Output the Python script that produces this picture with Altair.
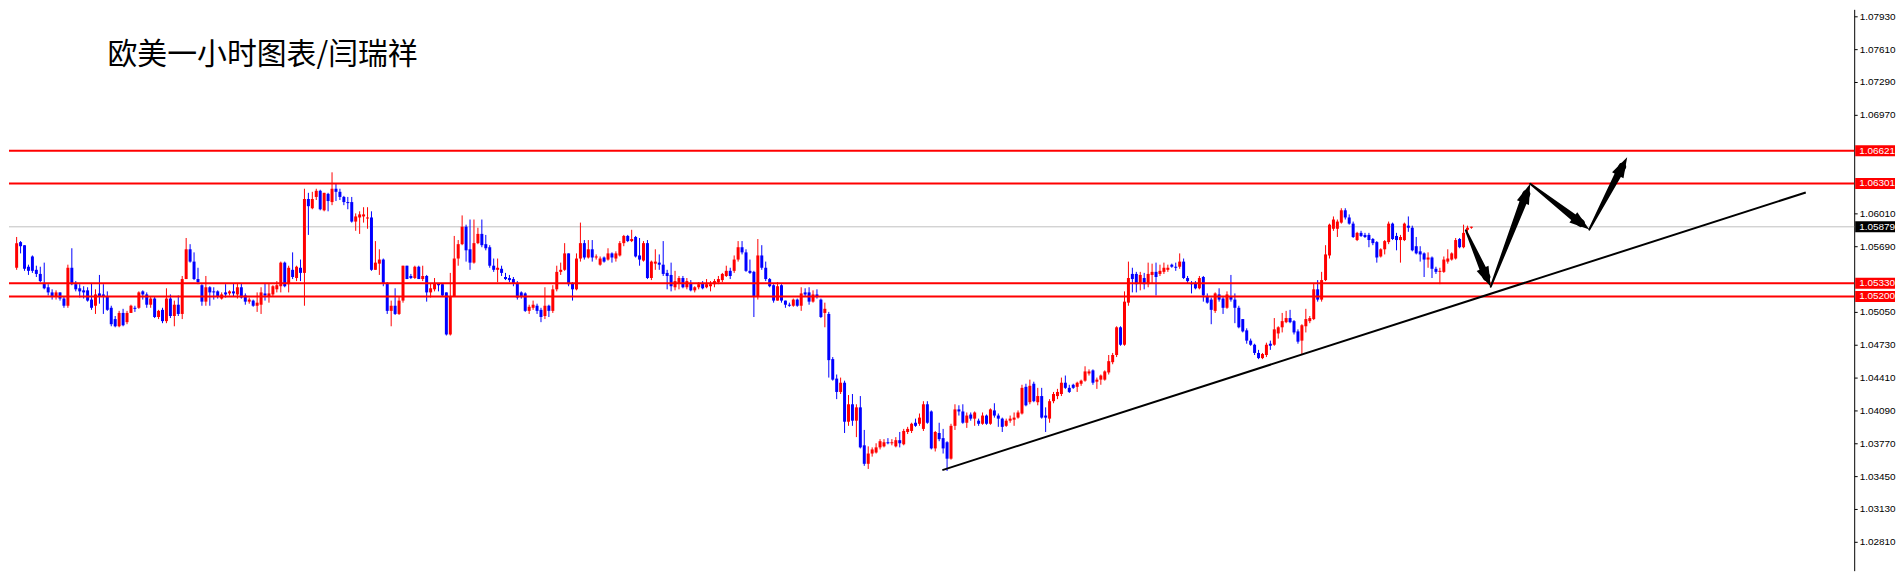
import math
import altair as alt
import pandas as pd

TITLE = "欧美一小时图表/闫瑞祥"

# EURUSD H1 candles, prices in pips (1 pip = 0.0001)
open_pips = [
    10548,10573,10570,10549,10559,10546,10542,10533,10529,10524,
    10520,10524,10518,10511,10548,10532,10528,10526,10526,10517,
    10511,10523,10522,10520,10509,10498,10491,10504,10495,10504,
    10509,10509,10525,10522,10512,10518,10500,10507,10496,10518,
    10501,10512,10503,10537,10566,10554,10537,10531,10515,10529,
    10525,10525,10518,10524,10523,10525,10522,10529,10521,10515,
    10516,10511,10512,10523,10520,10522,10527,10530,10553,10532,
    10546,10538,10548,10543,10615,
    10606,10617,10623,10604,10620,10612,10625,10622,10617,10612,
    10612,10593,10597,10598,10596,10597,10546,10552,10556,10533,
    10506,10511,10503,10516,10550,10540,10538,10549,10537,10540,
    10524,10527,10533,10532,10524,10483,10520,10557,10571,10588,
    10566,10553,10572,10581,10571,10568,10550,10546,10547,10539,
    10538,10537,10533,10524,10523,10506,10509,10511,10507,10501,
    10511,10506,10527,10544,10546,10562,10533,10527,10557,10572,
    10558,10566,10558,10551,10558,
    10556,10562,10557,10560,10572,10579,10574,10578,10560,10555,
    10572,10538,10552,10553,10551,10543,10541,10529,10533,10538,
    10529,10533,10526,10529,10533,10529,10530,10532,10534,10536,
    10540,10545,10545,10556,10568,10563,10545,10544,10520,10560,
    10548,10537,10531,10516,10531,10516,10512,10511,10517,10511,
    10524,10524,10515,10522,10517,10504,10503,10459,10440,10427,
    10436,10398,10415,10399,10412,10375,10357,10367,10368,10373,
    10374,10378,10377,10374,10380,
    10376,10388,10389,10397,10396,10391,10415,10408,10372,10387,
    10382,10378,10362,10394,10410,10408,10397,10405,10401,10399,
    10396,10404,10396,10409,10404,10401,10394,10399,10400,10402,
    10406,10432,10417,10435,10417,10423,10404,10401,10418,10423,
    10425,10436,10431,10434,10432,10435,10438,10445,10448,10437,
    10439,10439,10446,10456,10463,10490,10473,10514,10542,10542,
    10533,10538,10532,10541,10544,10542,10544,10546,10551,10549,
    10549,10554,10538,10533,10533,
    10528,10539,10520,10517,10506,10522,10518,10509,10520,10517,
    10509,10498,10487,10477,10473,10465,10460,10463,10474,10473,
    10484,10490,10495,10499,10496,10486,10477,10491,10496,10498,
    10527,10517,10536,10560,10586,10586,10592,10604,10597,10591,
    10575,10582,10580,10580,10576,10573,10559,10566,10573,10591,
    10579,10575,10575,10589,10587,10569,10564,10562,10556,10558,
    10547,10544,10544,10554,10556,10557,10576,10568,10585,10587,
]
high_pips = [
    10578,10574,10570,10551,10560,10550,10549,10553,10532,10527,
    10526,10524,10520,10551,10567,10535,10532,10530,10529,10533,
    10527,10541,10532,10525,10511,10501,10506,10508,10506,10512,
    10511,10525,10526,10524,10520,10520,10507,10509,10528,10522,
    10516,10521,10540,10577,10571,10563,10548,10532,10540,10530,
    10529,10526,10524,10532,10526,10533,10533,10533,10523,10519,
    10517,10524,10529,10533,10533,10531,10535,10554,10554,10550,
    10563,10550,10556,10625,10621,
    10622,10625,10624,10621,10621,10641,10630,10625,10618,10617,
    10617,10601,10603,10607,10607,10603,10574,10566,10557,10534,
    10516,10528,10520,10550,10550,10542,10550,10550,10550,10541,
    10533,10538,10533,10533,10524,10543,10579,10575,10599,10590,
    10595,10595,10587,10595,10580,10570,10557,10557,10550,10543,
    10541,10539,10535,10525,10524,10512,10516,10513,10509,10529,
    10512,10531,10550,10553,10572,10562,10534,10562,10592,10575,
    10575,10575,10561,10559,10559,
    10567,10563,10564,10574,10580,10580,10585,10579,10577,10574,
    10575,10555,10566,10561,10574,10546,10553,10545,10540,10540,
    10538,10536,10530,10534,10535,10537,10535,10537,10540,10543,
    10550,10548,10560,10574,10574,10566,10556,10545,10576,10570,
    10554,10538,10532,10534,10532,10516,10514,10518,10518,10529,
    10528,10529,10526,10527,10518,10514,10505,10461,10444,10441,
    10438,10424,10425,10415,10423,10390,10374,10373,10377,10381,
    10381,10382,10381,10383,10388,
    10391,10393,10397,10401,10406,10418,10418,10409,10389,10397,
    10391,10379,10396,10415,10414,10415,10407,10407,10408,10401,
    10407,10405,10411,10416,10406,10402,10401,10404,10407,10409,
    10434,10435,10439,10437,10431,10431,10412,10420,10427,10430,
    10441,10443,10434,10435,10437,10439,10452,10449,10449,10441,
    10444,10448,10463,10465,10491,10491,10525,10554,10548,10544,
    10544,10543,10553,10552,10553,10551,10553,10551,10552,10553,
    10562,10557,10540,10535,10535,
    10540,10540,10523,10519,10524,10528,10520,10525,10541,10523,
    10511,10498,10489,10479,10474,10468,10465,10475,10477,10499,
    10491,10504,10506,10507,10497,10488,10493,10508,10501,10533,
    10536,10544,10570,10591,10598,10595,10606,10606,10600,10593,
    10583,10584,10582,10582,10577,10574,10567,10575,10593,10592,
    10582,10580,10592,10598,10589,10578,10569,10563,10563,10559,
    10549,10548,10559,10566,10563,10577,10577,10590,10589,10588,
]
low_pips = [
    10546,10562,10545,10541,10543,10539,10534,10527,10521,10517,
    10517,10516,10509,10509,10531,10525,10519,10518,10515,10507,
    10503,10513,10503,10506,10491,10490,10490,10491,10493,10504,
    10505,10508,10517,10509,10509,10499,10498,10494,10494,10499,
    10491,10501,10498,10537,10553,10536,10532,10511,10511,10511,
    10517,10518,10517,10519,10521,10520,10518,10518,10512,10513,
    10510,10505,10503,10516,10514,10520,10524,10524,10529,10524,
    10537,10535,10535,10511,10580,
    10605,10614,10604,10603,10603,10609,10613,10614,10609,10605,
    10592,10584,10581,10592,10586,10545,10546,10541,10530,10503,
    10491,10502,10502,10514,10537,10537,10537,10537,10535,10515,
    10519,10525,10525,10520,10482,10482,10520,10550,10570,10554,
    10546,10552,10571,10568,10565,10548,10544,10534,10540,10536,
    10534,10530,10517,10518,10505,10503,10507,10503,10495,10498,
    10500,10504,10525,10541,10545,10530,10516,10526,10554,10556,
    10557,10554,10556,10550,10553,
    10555,10553,10554,10559,10569,10573,10573,10558,10550,10554,
    10537,10536,10546,10546,10540,10527,10525,10526,10527,10528,
    10527,10525,10524,10527,10527,10528,10525,10529,10532,10534,
    10539,10537,10543,10554,10561,10544,10542,10500,10517,10546,
    10535,10529,10514,10516,10514,10509,10510,10510,10510,10506,
    10520,10512,10514,10518,10499,10490,10441,10438,10420,10425,
    10387,10394,10394,10383,10372,10355,10352,10364,10367,10371,
    10373,10376,10375,10373,10373,
    10375,10386,10387,10393,10394,10389,10396,10371,10369,10379,
    10367,10350,10361,10390,10404,10396,10392,10399,10394,10394,
    10395,10395,10395,10402,10393,10388,10393,10397,10394,10401,
    10405,10413,10415,10417,10414,10401,10388,10397,10416,10420,
    10423,10430,10426,10430,10427,10433,10437,10443,10434,10430,
    10434,10438,10444,10454,10461,10472,10472,10511,10524,10524,
    10526,10527,10529,10533,10521,10540,10542,10544,10548,10545,
    10547,10537,10533,10523,10527,
    10527,10515,10513,10493,10504,10515,10503,10508,10515,10494,
    10489,10485,10474,10472,10463,10459,10459,10461,10468,10472,
    10479,10485,10494,10494,10483,10474,10464,10485,10494,10497,
    10515,10515,10535,10557,10584,10578,10591,10595,10590,10577,
    10574,10578,10577,10568,10570,10553,10558,10561,10571,10575,
    10565,10553,10574,10583,10564,10561,10554,10539,10548,10538,
    10542,10532,10543,10552,10555,10556,10567,10567,10583,10586,
]
close_pips = [
    10572,10569,10547,10545,10545,10542,10535,10528,10524,10520,
    10524,10518,10511,10548,10532,10527,10525,10524,10516,10509,
    10522,10520,10520,10507,10493,10491,10504,10492,10504,10511,
    10508,10524,10522,10512,10518,10500,10506,10496,10518,10501,
    10512,10503,10537,10566,10554,10537,10534,10515,10529,10524,
    10524,10520,10522,10522,10525,10523,10529,10519,10515,10517,
    10511,10514,10524,10521,10523,10530,10531,10553,10530,10548,
    10539,10549,10543,10615,10608,
    10615,10623,10605,10621,10613,10625,10622,10617,10612,10611,
    10593,10598,10600,10600,10597,10546,10553,10556,10533,10506,
    10511,10503,10516,10550,10537,10538,10549,10537,10540,10524,
    10528,10533,10531,10521,10483,10520,10557,10571,10588,10565,
    10553,10572,10581,10570,10567,10550,10546,10548,10543,10537,
    10536,10533,10519,10520,10506,10510,10512,10506,10500,10511,
    10506,10527,10544,10546,10562,10532,10527,10557,10572,10558,
    10566,10558,10559,10557,10554,
    10562,10558,10562,10572,10579,10574,10576,10559,10556,10572,
    10538,10554,10554,10551,10542,10540,10530,10535,10538,10529,
    10535,10526,10529,10532,10528,10532,10532,10535,10537,10542,
    10545,10540,10556,10568,10563,10545,10543,10520,10560,10548,
    10537,10530,10516,10530,10516,10512,10511,10517,10511,10523,
    10522,10515,10522,10520,10500,10508,10458,10439,10427,10436,
    10398,10415,10399,10412,10373,10357,10367,10371,10373,10379,
    10378,10377,10378,10380,10377,
    10389,10391,10396,10394,10402,10415,10397,10372,10388,10381,
    10372,10362,10394,10410,10408,10397,10404,10401,10407,10396,
    10404,10396,10410,10404,10401,10393,10399,10401,10402,10407,
    10431,10414,10433,10418,10423,10402,10402,10418,10425,10427,
    10436,10431,10427,10431,10436,10438,10447,10447,10436,10439,
    10443,10447,10457,10463,10490,10473,10515,10538,10537,10532,
    10541,10532,10542,10544,10539,10545,10548,10548,10549,10548,
    10554,10538,10535,10532,10528,
    10538,10521,10514,10507,10523,10517,10509,10522,10517,10509,
    10490,10486,10477,10473,10465,10460,10464,10473,10472,10488,
    10490,10496,10499,10495,10485,10476,10492,10498,10499,10527,
    10517,10536,10561,10590,10595,10593,10604,10597,10591,10578,
    10582,10579,10578,10575,10572,10558,10566,10574,10591,10576,
    10575,10578,10591,10587,10565,10562,10561,10556,10558,10547,
    10544,10545,10556,10557,10562,10575,10568,10582,10587,10588,
]

# horizontal levels and current price
LEVELS = [1.06621, 1.06301, 1.05330, 1.05200]
CURRENT = 1.05879
AXIS_TICKS = [1.07930, 1.07610, 1.07290, 1.06970, 1.06010, 1.05690, 1.05050,
              1.04730, 1.04410, 1.04090, 1.03770, 1.03450, 1.03130, 1.02810]

# trend line (bar index, price)
TREND_X = [234.8, 453.8]
TREND_Y = [1.03508, 1.06214]

# projected path drawn as arrows (bar index, price)
ARROW_X = [367.6, 373.9, 383.9, 398.9, 408.5]
ARROW_Y = [1.05845, 1.05295, 1.06298, 1.05852, 1.06556]

# ---------------- layout ----------------
W, H = 1854, 564
XDOM = [-0.675, 464.825]
YDOM = [1.025288, 1.079979]
PX_X = W / (XDOM[1] - XDOM[0])
PX_Y = H / (YDOM[1] - YDOM[0])

n = len(open_pips)
assert len(high_pips) == n and len(low_pips) == n and len(close_pips) == n

rows = []
for i in range(n):
    o, h, l, c = open_pips[i], high_pips[i], low_pips[i], close_pips[i]
    rows.append({
        "i": i,
        "open": o / 10000,
        "close": c / 10000,
        "high": max(h, o, c) / 10000,
        "low": min(l, o, c) / 10000,
        "dir": "up" if c >= o else "down",
    })
candles = pd.DataFrame(rows)

xs = alt.Scale(domain=XDOM, nice=False, zero=False)
ys = alt.Scale(domain=YDOM, nice=False, zero=False)
color = alt.Color("dir:N", scale=alt.Scale(domain=["up", "down"], range=["#ff0000", "#0000ff"]), legend=None)

yaxis = alt.Axis(orient="right", values=AXIS_TICKS, format=".5f", labelFont="Liberation Sans",
                 labelFontSize=10, labelColor="black", tickSize=3, tickColor="black",
                 domainColor="black", domainWidth=1, labelPadding=2, grid=False, title=None,
                 labelOverlap=False, labelFlush=False)


def X(field):
    return alt.X(field, scale=xs, axis=None)


def Y(field):
    return alt.Y(field, scale=ys, axis=yaxis)


base = alt.Chart(candles)

wicks = base.mark_rule(strokeWidth=1).encode(x=X("i:Q"), y=Y("low:Q"), y2="high:Q", color=color)
bodies = base.mark_bar(size=3).encode(x=X("i:Q"), y=Y("open:Q"), y2="close:Q", color=color)

cur_df = pd.DataFrame({"p": [CURRENT], "label": [f"{CURRENT:.5f}"], "bg": ["#000000"]})
lev_df = pd.DataFrame({"p": LEVELS, "label": [f"{v:.5f}" for v in LEVELS], "bg": ["#ff0000"] * len(LEVELS)})
box_df = pd.concat([lev_df, cur_df], ignore_index=True)

cur_line = alt.Chart(cur_df).mark_rule(color="#c0c0c0", strokeWidth=1).encode(y=Y("p:Q"))
lev_lines = alt.Chart(lev_df).mark_rule(color="#ff0000", strokeWidth=2).encode(y=Y("p:Q"))

trend = alt.Chart(pd.DataFrame({"x": TREND_X, "y": TREND_Y})).mark_line(
    color="black", strokeWidth=2).encode(x=X("x:Q"), y=Y("y:Q"))

trail_rows, head_rows = [], []
for k in range(len(ARROW_X) - 1):
    x0, y0, x1, y1 = ARROW_X[k], ARROW_Y[k], ARROW_X[k + 1], ARROW_Y[k + 1]
    dx = (x1 - x0) * PX_X
    dy = -(y1 - y0) * PX_Y
    L = math.hypot(dx, dy)
    back = 11.0
    xe = x1 - back / L * dx / PX_X
    ye = y1 + back / L * dy / PX_Y
    trail_rows.append({"a": k, "o": 0, "x": x0, "y": y0, "w": 2.0})
    trail_rows.append({"a": k, "o": 1, "x": xe, "y": ye, "w": 8.0})
    ang = (math.degrees(math.atan2(dx, -dy)) + 360) % 360
    head_rows.append({"x": x1, "y": y1, "ang": ang})

trails = alt.Chart(pd.DataFrame(trail_rows)).mark_trail(color="black").encode(
    x=X("x:Q"), y=Y("y:Q"),
    size=alt.Size("w:Q", scale=None, legend=None), detail="a:N", order="o:Q")
heads = alt.Chart(pd.DataFrame(head_rows)).mark_point(
    shape="M0,0L0.48,1.5L-0.48,1.5Z", filled=True, size=729, color="black", opacity=1, strokeWidth=0
).encode(x=X("x:Q"), y=Y("y:Q"), angle=alt.Angle("ang:Q", scale=None))

boxes = alt.Chart(box_df).mark_tick(thickness=11, size=40, opacity=1).encode(
    y=Y("p:Q"), x=alt.value(W + 21),
    color=alt.Color("bg:N", scale=None, legend=None))
box_text = alt.Chart(box_df).mark_text(align="left", baseline="middle", color="white",
                                       font="Liberation Sans", fontSize=10).encode(
    y=Y("p:Q"), x=alt.value(W + 5), text="label:N")

title = alt.Chart(pd.DataFrame({"t": [TITLE]})).mark_text(
    align="left", baseline="middle", font="Noto Sans CJK SC", fontSize=30, color="black"
).encode(x=alt.value(99), y=alt.value(46), text="t:N")

chart = alt.layer(cur_line, wicks, bodies, lev_lines, trend, trails, heads, boxes, box_text, title).properties(
    width=W, height=H, padding=0
).configure_view(stroke=None)

chart.save("out.html", embed_options={"renderer": "svg", "actions": False})
